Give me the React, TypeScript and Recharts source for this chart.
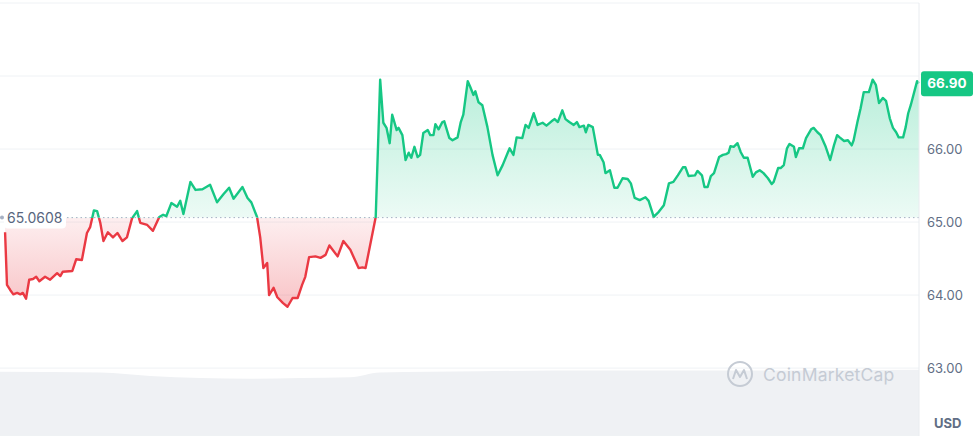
import { AreaChart, Area, XAxis, YAxis, CartesianGrid, ReferenceLine, ReferenceDot } from 'recharts';

// minutes since window start (24h) and price in USD
const minutes = [
  0, 3, 8, 13, 19, 24, 28, 33, 38, 44, 49, 54, 63, 71, 82, 87, 91, 106, 112, 121,
  129, 134, 140, 145, 150, 155, 162, 170, 177, 185, 192, 200, 208, 213, 224, 233, 243, 249, 254, 262,
  271, 276, 281, 292, 300, 311, 323, 334, 344, 353, 360, 374, 382, 388, 397, 402, 407, 413, 416, 423,
  429, 438, 445, 453, 461, 468, 473, 479, 489, 497, 505, 511, 524, 533, 544, 557, 563, 568, 579, 584,
  591, 596, 601, 606, 610, 617, 620, 626, 631, 636, 640, 645, 650, 654, 659, 666, 670, 675, 678, 683,
  689, 692, 700, 705, 713, 718, 722, 729, 733, 738, 741, 746, 752, 760, 768, 776, 784, 792, 795, 801,
  806, 815, 820, 825, 833, 839, 847, 853, 861, 866, 871, 878, 883, 889, 896, 901, 905, 912, 915, 919,
  926, 934, 937, 943, 946, 953, 960, 965, 973, 981, 986, 992, 1000, 1009, 1014, 1022, 1030, 1038, 1046, 1053,
  1060, 1068, 1072, 1077, 1087, 1091, 1098, 1102, 1107, 1112, 1117, 1125, 1131, 1136, 1140, 1143, 1148, 1154, 1159, 1164,
  1170, 1178, 1183, 1189, 1195, 1202, 1208, 1211, 1218, 1222, 1227, 1232, 1236, 1243, 1246, 1251, 1257, 1262, 1270, 1274,
  1280, 1285, 1293, 1300, 1306, 1311, 1315, 1322, 1328, 1334, 1337, 1343, 1348, 1353, 1361, 1367, 1372, 1377, 1383, 1388,
  1394, 1399, 1404, 1408, 1415, 1419, 1423, 1427, 1437, 1440,
];

const prices = [
  64.86, 64.14, 64.07, 64.01, 64.03, 64.01, 64.03, 63.95, 64.21, 64.22, 64.25, 64.19, 64.25, 64.21, 64.3, 64.26, 64.32, 64.33, 64.49, 64.48,
  64.85, 64.93, 65.16, 65.15, 64.99, 64.74, 64.86, 64.79, 64.85, 64.74, 64.79, 65.05, 65.15, 64.99, 64.96, 64.88, 65.07, 65.1, 65.08, 65.26,
  65.21, 65.29, 65.11, 65.55, 65.44, 65.45, 65.51, 65.27, 65.38, 65.47, 65.32, 65.48, 65.33, 65.27, 65.07, 64.79, 64.37, 64.44, 64.0, 64.1,
  63.97, 63.89, 63.84, 63.96, 63.96, 64.14, 64.25, 64.52, 64.53, 64.51, 64.55, 64.68, 64.53, 64.74, 64.62, 64.37, 64.38, 64.37, 64.85, 65.07,
  66.95, 66.36, 66.29, 66.08, 66.47, 66.26, 66.29, 66.19, 65.85, 65.95, 65.88, 66.03, 65.89, 65.92, 66.22, 66.26, 66.19, 66.19, 66.34, 66.27,
  66.37, 66.38, 66.15, 66.12, 66.16, 66.37, 66.47, 66.93, 66.85, 66.74, 66.79, 66.64, 66.6, 66.3, 65.92, 65.64, 65.78, 65.95, 66.01, 65.92,
  66.16, 66.15, 66.33, 66.29, 66.49, 66.33, 66.36, 66.32, 66.38, 66.41, 66.37, 66.53, 66.41, 66.37, 66.33, 66.37, 66.3, 66.32, 66.23, 66.33,
  66.3, 65.92, 65.92, 65.82, 65.67, 65.71, 65.47, 65.47, 65.6, 65.59, 65.53, 65.33, 65.3, 65.34, 65.29, 65.07, 65.14, 65.23, 65.53, 65.55,
  65.64, 65.75, 65.75, 65.63, 65.64, 65.7, 65.64, 65.48, 65.48, 65.63, 65.67, 65.89, 65.92, 65.93, 65.95, 66.04, 66.03, 66.08, 65.96, 65.88,
  65.88, 65.62, 65.68, 65.71, 65.67, 65.6, 65.52, 65.55, 65.74, 65.74, 65.78, 66.01, 66.07, 66.03, 65.89, 66.01, 66.01, 66.15, 66.27, 66.29,
  66.23, 66.19, 66.03, 65.85, 66.05, 66.19, 66.16, 66.11, 66.12, 66.05, 66.12, 66.37, 66.56, 66.78, 66.78, 66.95, 66.88, 66.63, 66.7, 66.66,
  66.42, 66.29, 66.23, 66.16, 66.16, 66.3, 66.49, 66.6, 66.93, 66.9,
];

// volume band at the bottom (relative units)
const volMinutes = [-8, 150, 229, 308, 386, 465, 544, 591, 749, 938, 1175, 1441];
const volumes = [93, 92, 87, 84, 83, 84, 85, 92, 94, 95, 95, 96];

const yTicks = [63, 64, 65, 66, 67, 68];
const openPrice = 65.0608;
const lastPrice = 66.9;

const GREEN = '#16c784';
const RED = '#ea3943';
const FONT = 'Inter, "Noto Sans", sans-serif';

const data = minutes.map((m, i) => ({ m, price: prices[i] }));
const volData = volMinutes.map((m, i) => ({ m, vol: volumes[i] }));

const hi = Math.max(...prices);
const lo = Math.min(...prices);
const split = (hi - openPrice) / (hi - lo);

function OpenTag({ cx, cy }: any) {
  return (
    <g>
      <circle cx={cx + 2} cy={cy} r={2} fill="#a6b0c3" />
      <rect x={cx + 4} y={cy - 11} width={62} height={22} rx={4} fill="#fff" />
      <text x={cx + 7} y={cy + 5} fill="#58667e" fontSize={14} fontFamily={FONT}>
        {openPrice.toFixed(4)}
      </text>
    </g>
  );
}

function PriceTag({ cx, cy }: any) {
  return (
    <g>
      <rect x={cx + 2} y={cy - 12} width={52} height={25} rx={3} fill={GREEN} />
      <text x={cx + 28} y={cy + 5} fill="#fff" fontSize={13.5} fontWeight={700} fontFamily={FONT} textAnchor="middle">
        {lastPrice.toFixed(2)}
      </text>
    </g>
  );
}

export default function App() {
  return (
    <div style={{ position: 'absolute', left: 0, top: 0, width: 979, height: 436, background: '#fff', fontFamily: FONT }}>
      <div style={{ position: 'absolute', left: 0, top: 367 }}>
        <AreaChart width={919} height={69} data={volData} margin={{ top: 0, right: 0, bottom: 0, left: 0 }}>
          <XAxis dataKey="m" type="number" domain={[-8, 1440]} hide />
          <YAxis domain={[0, 100]} hide />
          <Area type="monotone" dataKey="vol" stroke="none" fill="#eff1f4" fillOpacity={1} isAnimationActive={false} />
        </AreaChart>
      </div>

      <div style={{ position: 'absolute', left: 0, top: 0 }}>
        <AreaChart width={979} height={436} data={data} margin={{ top: 3, right: 0, bottom: 0, left: 0 }}>
          <defs>
            <linearGradient id="lineSplit" x1="0" y1="0" x2="0" y2="1">
              <stop offset={split} stopColor={GREEN} />
              <stop offset={split} stopColor={RED} />
            </linearGradient>
            <linearGradient id="fillSplit" x1="0" y1="0" x2="0" y2="1">
              <stop offset={0} stopColor={GREEN} stopOpacity={0.3} />
              <stop offset={split} stopColor={GREEN} stopOpacity={0.08} />
              <stop offset={split} stopColor={RED} stopOpacity={0.08} />
              <stop offset={1} stopColor={RED} stopOpacity={0.3} />
            </linearGradient>
          </defs>
          <CartesianGrid vertical={false} stroke="#eff2f5" />
          <XAxis dataKey="m" type="number" domain={[-8, 1440]} hide />
          <YAxis
            orientation="right"
            width={60}
            domain={[62.07, 68]}
            ticks={yTicks}
            interval={0}
            axisLine={{ stroke: '#e9ecf0' }}
            tickLine={false}
            tick={{ fill: '#616e85', fontSize: 13, fontFamily: FONT }}
            tickFormatter={(v: number) => (v > 66.5 ? '' : v.toFixed(2))}
          />
          <ReferenceLine y={openPrice} stroke="#a6b0c3" strokeDasharray="1.5 3" />
          <Area
            type="linear"
            dataKey="price"
            baseValue={openPrice}
            stroke="url(#lineSplit)"
            strokeWidth={2.4}
            strokeLinejoin="round"
            fill="url(#fillSplit)"
            fillOpacity={1}
            dot={false}
            activeDot={false}
            isAnimationActive={false}
          />
          <ReferenceDot x={-8} y={openPrice} r={0} shape={OpenTag} />
          <ReferenceDot x={1440} y={lastPrice} r={0} shape={PriceTag} />
        </AreaChart>
      </div>

      <div style={{ position: 'absolute', left: 726, top: 360, display: 'flex', alignItems: 'center', color: '#c5cbd4' }}>
        <svg width={28} height={28} viewBox="0 0 28 28">
          <circle cx={14} cy={14} r={12} fill="none" stroke="#c5cbd4" strokeWidth={2} />
          <path d="M7 19 L10 10 L14 17 L18 10 L21 19" fill="none" stroke="#c5cbd4" strokeWidth={2} strokeLinejoin="round" />
        </svg>
        <span style={{ marginLeft: 9, fontSize: 17.5, letterSpacing: 0.2 }}>CoinMarketCap</span>
      </div>

      <div style={{ position: 'absolute', left: 934, top: 415, fontSize: 13, fontWeight: 700, color: '#616e85' }}>USD</div>
    </div>
  );
}
